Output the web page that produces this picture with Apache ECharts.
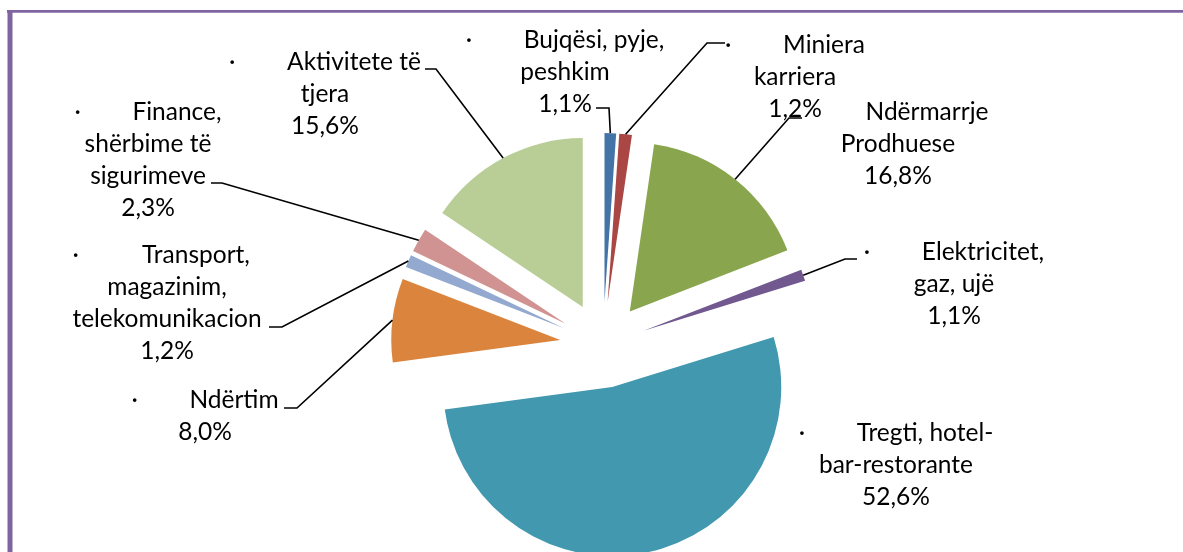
<!DOCTYPE html>
<html><head><meta charset="utf-8">
<script src="https://cdn.jsdelivr.net/npm/echarts@6/dist/echarts.min.js"></script>
<style>html,body{margin:0;padding:0;background:#fff}#c{width:1183px;height:552px}</style>
</head><body><div id="c"></div>
<script>
const categories = ['Bujqësi, pyje,\npeshkim', 'Miniera\nkarriera', 'Ndërmarrje\nProdhuese', 'Elektricitet,\ngaz, ujë', 'Tregti, hotel-\nbar-restorante', 'Ndërtim', 'Transport,\nmagazinim,\ntelekomunikacion', 'Finance,\nshërbime të\nsigurimeve', 'Aktivitete të\ntjera'];
const values = [1.1, 1.2, 16.8, 1.1, 52.6, 8.0, 1.2, 2.3, 15.6];
const colors = ['#4473A8', '#AA4643', '#89A54E', '#71588F', '#4198AF', '#DB843D', '#93A9CF', '#D19392', '#B9CD96'];

// label layout: [centerX, topY]
const labelPos = [[565,24],[795,29],[898,96],[954,236],[896,417],[205,384],[167,239],[148,96],[325,46]];
// leader line end near the label: [endX, endY, elbowX]
const leaderEnds = [[596,108,609],[725,43,707],[802,118,789],[857,259,845],null,[284,408,297],[269,327,282],[211,183,222],[425,69,436]];
const showDot = [true,true,false,true,true,true,true,true,true];

const CENTER = [603, 345];
const RADIUS = 169;
const OFFSET = 43;
const FONT = 'Lato';
const FS = 24.5;
const LH = 32;

const chart = echarts.init(document.getElementById('c'), null, {renderer: 'canvas'});

const sliceData = values.map((v, i) => ({
  name: categories[i], value: v, selected: true, itemStyle: {color: colors[i]}
}));
const labelData = values.map((v, i) => ({
  name: categories[i], value: v,
  labelLine: {show: leaderEnds[i] != null}
}));

chart.setOption({
  animation: false,
  backgroundColor: '#fff',
  graphic: [
    {type: 'line', shape: {x1: 7, y1: 11.3, x2: 1183, y2: 11.3}, style: {stroke: '#8064A2', lineWidth: 2.8}},
    {type: 'line', shape: {x1: 10, y1: 10, x2: 10, y2: 552}, style: {stroke: '#8064A2', lineWidth: 5}}
  ],
  series: [{
    type: 'pie',
    center: CENTER,
    radius: RADIUS,
    startAngle: 90,
    clockwise: true,
    selectedMode: 'multiple',
    selectedOffset: OFFSET,
    emphasis: {disabled: true},
    silent: true,
    label: {show: false},
    labelLine: {show: false},
    data: sliceData
  }, {
    type: 'pie',
    center: CENTER,
    radius: RADIUS,
    startAngle: 90,
    clockwise: true,
    selectedMode: false,
    avoidLabelOverlap: false,
    emphasis: {disabled: true},
    silent: true,
    z: 5,
    itemStyle: {color: 'rgba(0,0,0,0)'},
    data: labelData,
    label: {
      show: true,
      position: 'outside',
      color: '#000',
      fontFamily: FONT,
      fontSize: FS,
      lineHeight: LH,
      align: 'center',
      formatter: function (p) {
        const lines = p.name.split('\n');
        const i = p.dataIndex;
        lines[0] = (showDot[i] ? '{d|·}' : '{h|·}') + lines[0];
        lines.push(p.value.toFixed(1).replace('.', ',') + '%');
        return lines.join('\n');
      },
      rich: {
        d: {width: 58, align: 'left', color: '#000', fontFamily: FONT, fontSize: FS, lineHeight: LH},
        h: {width: 58, align: 'left', color: 'rgba(0,0,0,0)', fontFamily: FONT, fontSize: FS, lineHeight: LH}
      }
    },
    labelLine: {
      show: true,
      length: 10,
      length2: 12,
      smooth: false,
      lineStyle: {color: '#000', width: 1.6}
    },
    labelLayout: function (params) {
      const i = params.dataIndex;
      const p = labelPos[i];
      const res = {x: p[0], y: p[1], align: 'center', verticalAlign: 'top'};
      const lp = params.labelLinePoints;
      const le = leaderEnds[i];
      if (lp && le) {
        const a = lp[0];
        const vx = a[0] - CENTER[0], vy = a[1] - CENTER[1];
        const len = Math.sqrt(vx * vx + vy * vy) || 1;
        res.labelLinePoints = [
          [a[0] + OFFSET * vx / len, a[1] + OFFSET * vy / len],
          [le[2], le[1]],
          [le[0], le[1]]
        ];
      }
      return res;
    }
  }]
});
</script>
</body></html>
